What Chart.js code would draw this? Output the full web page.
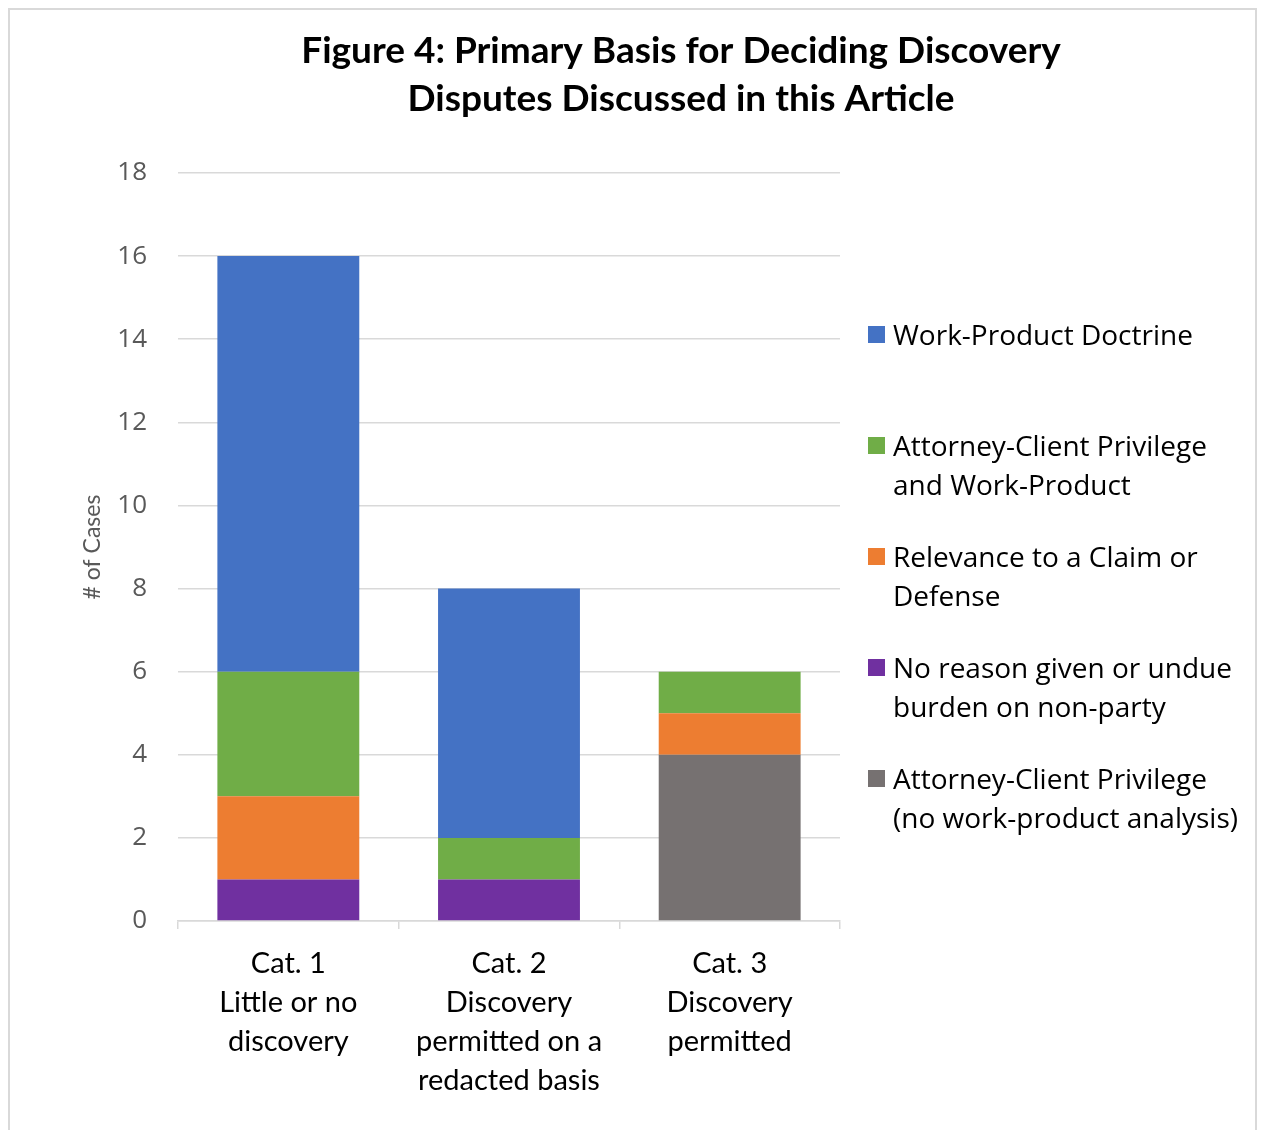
<!DOCTYPE html>
<html>
<head>
<meta charset="utf-8">
<script src="https://cdn.jsdelivr.net/npm/chart.js@4.4.1/dist/chart.umd.min.js"></script>
<style>
  html, body { margin: 0; padding: 0; background: #fff; }
  #wrap { position: relative; width: 1261px; height: 1130px; overflow: hidden; }
  #frame { position: absolute; left: 8px; top: 8px; width: 1249px; height: 1130px; border: 2px solid #d9d9d9; box-sizing: border-box; pointer-events: none; }
  #c { position: absolute; left: 0; top: 0; }
  #legend { position: absolute; left: 868px; top: 0; font-family: "Open Sans", sans-serif; font-size: 28px; color: #000; }
  .item { position: absolute; left: 0; white-space: nowrap; }
  .box { position: absolute; left: 0; width: 17px; height: 17px; }
  .txt { position: absolute; left: 25px; line-height: 39px; }
</style>
</head>
<body>
<div id="wrap">
  <canvas id="c" width="1261" height="1130"></canvas>
  <div id="frame"></div>
  <div id="legend"></div>
</div>
<script>
// ---- data ----
const titleLines = ["Figure 4: Primary Basis for Deciding Discovery", "Disputes Discussed in this Article"];
const yAxisTitle = "# of Cases";
const categories = [
  ["Cat. 1", "Little or no", "discovery"],
  ["Cat. 2", "Discovery", "permitted on a", "redacted basis"],
  ["Cat. 3", "Discovery", "permitted"]
];
const acOnlyLabel = ["Attorney-Client Privilege", "(no work-product analysis)"];
const acOnlyValues = [0, 0, 4];
const noReasonLabel = ["No reason given or undue", "burden on non-party"];
const noReasonValues = [1, 1, 0];
const relevanceLabel = ["Relevance to a Claim or", "Defense"];
const relevanceValues = [2, 0, 1];
const acWpLabel = ["Attorney-Client Privilege", "and Work-Product"];
const acWpValues = [3, 1, 1];
const workProductLabel = ["Work-Product Doctrine"];
const workProductValues = [10, 6, 0];
const yTicks = [0, 2, 4, 6, 8, 10, 12, 14, 16, 18];

const colors = {
  workProduct: "#4472C4",
  acWp: "#70AD47",
  relevance: "#ED7D31",
  noReason: "#7030A0",
  acOnly: "#767171"
};

// stacking order: first dataset at the bottom
const datasets = [
  { label: acOnlyLabel.join(" "), lines: acOnlyLabel, data: acOnlyValues, backgroundColor: colors.acOnly },
  { label: noReasonLabel.join(" "), lines: noReasonLabel, data: noReasonValues, backgroundColor: colors.noReason },
  { label: relevanceLabel.join(" "), lines: relevanceLabel, data: relevanceValues, backgroundColor: colors.relevance },
  { label: acWpLabel.join(" "), lines: acWpLabel, data: acWpValues, backgroundColor: colors.acWp },
  { label: workProductLabel.join(" "), lines: workProductLabel, data: workProductValues, backgroundColor: colors.workProduct }
];
datasets.forEach(d => { d.barPercentage = 0.643; d.categoryPercentage = 1.0; d.borderWidth = 0; });

const chart = new Chart(document.getElementById("c"), {
  type: "bar",
  data: { labels: categories, datasets: datasets },
  options: {
    responsive: false,
    animation: false,
    devicePixelRatio: 1,
    layout: { padding: { left: 101, right: 0, top: 0, bottom: 0 } },
    plugins: {
      legend: { display: false },
      tooltip: { enabled: false },
      title: {
        display: true,
        text: titleLines,
        color: "#000",
        font: { family: "Lato", size: 37, weight: "bold", lineHeight: "48px" },
        padding: { top: 27, bottom: 50 }
      }
    },
    scales: {
      x: {
        stacked: true,
        grid: { display: true, drawOnChartArea: false, drawTicks: true, tickLength: 8, offset: true, color: "#d9d9d9", lineWidth: 1.5 },
        border: { display: true, color: "#d9d9d9", width: 1.5 },
        ticks: { color: "#000", font: { family: "Lato", size: 29, lineHeight: "39px" }, padding: 15, maxRotation: 0, autoSkip: false },
        afterFit(s) { s.height = 209; }
      },
      y: {
        stacked: true,
        min: 0, max: 18,
        afterBuildTicks(s) { s.ticks = yTicks.map(v => ({ value: v })); },
        grid: { color: "#d9d9d9", lineWidth: 1.5, drawTicks: false },
        border: { display: false },
        ticks: { color: "#595959", font: { family: "Open Sans", size: 26 }, padding: 31 },
        title: { display: true, text: yAxisTitle, color: "#595959", font: { family: "Lato", size: 23 }, padding: { top: -22, bottom: 0 } },
        afterFit(s) { s.width = 77; }
      },
      y2: {
        position: "right",
        display: true,
        grid: { display: false },
        border: { display: false },
        ticks: { display: false },
        afterFit(s) { s.width = 421; }
      }
    }
  }
});

// HTML legend built from the datasets (Excel order: reverse of series order)
const legendEl = document.getElementById("legend");
const legendTops = [334, 445, 556, 667, 778];
datasets.slice().reverse().forEach((d, i) => {
  const item = document.createElement("div");
  item.className = "item";
  item.style.top = (legendTops[i] - 19.5) + "px";
  const box = document.createElement("div");
  box.className = "box";
  box.style.background = d.backgroundColor;
  box.style.top = (19.5 - 8.5) + "px";
  const txt = document.createElement("div");
  txt.className = "txt";
  txt.innerHTML = d.lines.map(l => l.replace(/&/g, "&amp;").replace(/</g, "&lt;")).join("<br>");
  item.appendChild(box);
  item.appendChild(txt);
  legendEl.appendChild(item);
});
</script>
</body>
</html>
